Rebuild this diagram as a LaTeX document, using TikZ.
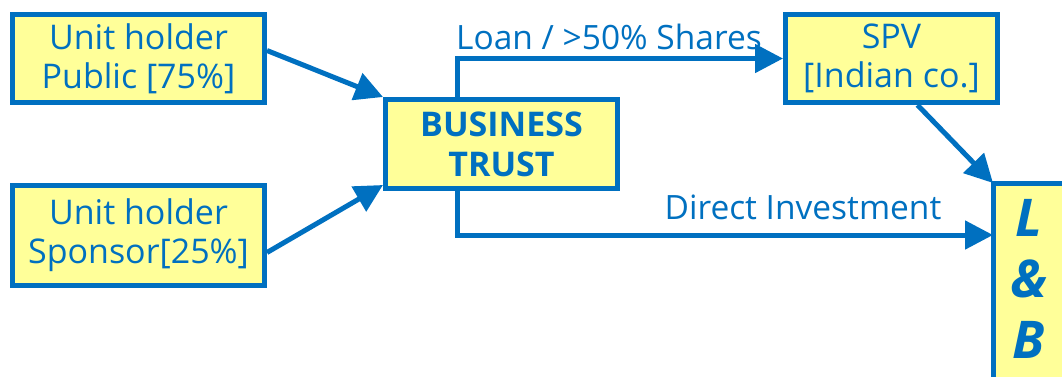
\documentclass[tikz,border=0pt]{standalone}
\usepackage{fontspec}
\setmainfont{Open Sans}
\usetikzlibrary{arrows.meta,positioning,backgrounds}
\definecolor{tblue}{HTML}{0070C0}
\definecolor{tyellow}{HTML}{FFFF99}
\tikzset{
  box/.style={draw=tblue, fill=tyellow, line width=5pt, anchor=north west, inner sep=0pt,
    align=center, text=tblue, font=\fontsize{34}{39}\selectfont},
  arr/.style={draw=tblue, line width=5pt, -{Triangle[length=28pt,width=28pt]}},
  lbl/.style={text=tblue, font=\fontsize{33.5}{39}\selectfont, inner sep=0pt},
}
\begin{document}
\begin{tikzpicture}[x=1pt,y=-1pt]
\useasboundingbox (0,0) rectangle (1062,376);
\clip (0,0) rectangle (1062,376);
\node[box, minimum width=252pt, minimum height=88pt] (pub) at (10,12) {Unit holder\\Public [75\%]};
\node[box, minimum width=252pt, minimum height=100pt] (spo) at (10,183) {Unit holder\\Sponsor[25\%]};
\node[box, minimum width=232pt, minimum height=89pt, font=\bfseries\fontsize{34}{40}\selectfont] (bt) at (383,97) {BUSINESS\\TRUST};
\node[box, minimum width=212pt, minimum height=88pt] (spv) at (783,12) {SPV\\{[Indian co.]}};
\node[box, draw=none, fill=none, minimum width=67pt, minimum height=186pt, font=\bfseries\itshape\fontsize{52}{61}\selectfont] (lb) at (993,183) {L\\\&\\B};
\begin{scope}[on background layer]
  \filldraw[draw=tblue, fill=tyellow, line width=5pt] (lb.north west) rectangle (lb.east |- 0,420);
\end{scope}
\coordinate (di) at (993,235);
\draw[arr] ([yshift=8pt]pub.east) -- (bt.north west);
\draw[arr] ([yshift=-17pt]spo.east) -- ([yshift=6pt]bt.south west);
\draw[arr] ([xshift=-44pt]bt.north) |- (spv.west);
\draw[arr] ([xshift=-44pt]bt.south) |- (di);
\draw[arr] ([xshift=26pt]spv.south) -- (lb.north west);
\node[lbl] (loan) at (609,37) {Loan / >50\% Shares};
\node[lbl] (dinv) at (803,207) {Direct Investment};
\end{tikzpicture}
\end{document}
